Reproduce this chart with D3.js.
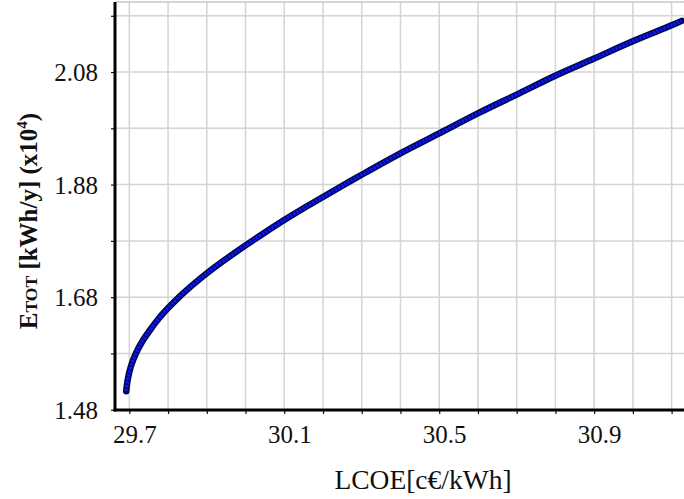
<!DOCTYPE html>
<html>
<head>
<meta charset="utf-8">
<script src="https://cdn.jsdelivr.net/npm/d3@7"></script>
<style>
  html, body { margin: 0; padding: 0; background: #fff; }
  svg { display: block; }
</style>
</head>
<body>
<svg id="chart" width="684" height="499"></svg>
<script>
// ---- data ----
const lcoe = [29.692, 29.696, 29.704, 29.717, 29.734, 29.755, 29.777, 29.802, 29.831, 29.862,
              29.901, 29.950, 30.000, 30.050, 30.102, 30.150, 30.200, 30.250, 30.301, 30.401,
              30.500, 30.601, 30.700, 30.801, 30.900, 31.001, 31.100, 31.126];
const etot = [1.513, 1.534, 1.557, 1.580, 1.602, 1.623, 1.643, 1.662, 1.682, 1.701,
              1.723, 1.748, 1.772, 1.795, 1.818, 1.838, 1.858, 1.878, 1.898, 1.936,
              1.971, 2.007, 2.040, 2.074, 2.104, 2.135, 2.163, 2.171];
const xTickLabels = [29.7, 30.1, 30.5, 30.9];
const yTickLabels = [1.48, 1.68, 1.88, 2.08];
const xGrid = [29.7, 29.8, 29.9, 30.0, 30.1, 30.2, 30.3, 30.4, 30.5, 30.6, 30.7, 30.8, 30.9, 31.0, 31.1];
const yGrid = [1.48, 1.58, 1.68, 1.78, 1.88, 1.98, 2.08, 2.18];
const xTitle = "LCOE[c€/kWh]";

const FONT = "'Liberation Serif', 'DejaVu Serif', serif";
const svg = d3.select("#chart");
const mL = 115, mR = 684, mT = 2, mB = 410;

const x = d3.scaleLinear().domain([29.663, 31.132]).range([mL, mR]);
const y = d3.scaleLinear().domain([1.4795, 2.2045]).range([mB, mT]);

// grid
const grid = svg.append("g");
grid.selectAll("line.v").data(xGrid).join("line")
  .attr("x1", d => x(d)).attr("x2", d => x(d))
  .attr("y1", mT).attr("y2", mB)
  .attr("stroke", "#d4d4d4").attr("stroke-width", 1.5);
grid.selectAll("line.h").data(yGrid).join("line")
  .attr("x1", mL).attr("x2", mR)
  .attr("y1", d => y(d)).attr("y2", d => y(d))
  .attr("stroke", "#d4d4d4").attr("stroke-width", 1.5);
grid.append("line").attr("x1", mL).attr("x2", mR).attr("y1", mT).attr("y2", mT)
  .attr("stroke", "#c8c8c8").attr("stroke-width", 1.5);

// axes
const xAxis = d3.axisBottom(x).tickValues(xGrid).tickSize(4)
  .tickFormat(d => xTickLabels.some(v => Math.abs(v - d) < 1e-6) ? d3.format(".1f")(d) : "");
const gx = svg.append("g").attr("transform", `translate(0,${mB})`).call(xAxis);
gx.select(".domain").remove();
gx.selectAll(".tick line").attr("stroke", "#111").attr("stroke-width", 1.2);
gx.selectAll(".tick text").style("font-family", FONT).style("font-size", "25px")
  .attr("dy", "1.05em").attr("dx", 5).attr("fill", "#111");

const yAxis = d3.axisLeft(y).tickValues(yGrid).tickSize(4)
  .tickFormat(d => yTickLabels.some(v => Math.abs(v - d) < 1e-6) ? d3.format(".2f")(d) : "");
const gy = svg.append("g").attr("transform", `translate(${mL},0)`).call(yAxis);
gy.select(".domain").remove();
gy.selectAll(".tick line").attr("stroke", "#111").attr("stroke-width", 1.2);
gy.selectAll(".tick text").style("font-family", FONT).style("font-size", "25px")
  .attr("dx", "-0.4em").attr("dy", "0.34em").attr("fill", "#111");

// thick axis lines
svg.append("line").attr("x1", mL).attr("x2", mL).attr("y1", mT).attr("y2", mB + 1.5)
  .attr("stroke", "#000").attr("stroke-width", 3);
svg.append("line").attr("x1", mL - 1.5).attr("x2", mR).attr("y1", mB).attr("y2", mB)
  .attr("stroke", "#000").attr("stroke-width", 3);

// curve
const pts = lcoe.map((v, i) => [v, etot[i]]);
const line = d3.line().x(d => x(d[0])).y(d => y(d[1])).curve(d3.curveCatmullRom.alpha(0.5));
svg.append("path").datum(pts).attr("d", line)
  .attr("fill", "none").attr("stroke", "#00084a").attr("stroke-width", 6.5)
  .attr("stroke-linecap", "round");
svg.append("path").datum(pts).attr("d", line)
  .attr("fill", "none").attr("stroke", "#0a14ff").attr("stroke-width", 3.6)
  .attr("stroke-dasharray", "2.6,1.1");

// titles
svg.append("text").attr("x", 423).attr("y", 489).attr("text-anchor", "middle")
  .style("font-family", FONT).style("font-size", "27.5px").attr("fill", "#111").text(xTitle);

const yt = svg.append("text").attr("transform", "translate(37,221) rotate(-90)")
  .attr("text-anchor", "middle").style("font-family", FONT).style("font-size", "25px")
  .style("font-weight", "bold").attr("fill", "#111");
yt.append("tspan").text("E");
yt.append("tspan").style("font-size", "17.5px").text("TOT");
yt.append("tspan").text(" [kWh/y] (x10");
yt.append("tspan").style("font-size", "15px").attr("dy", -10).text("4");
yt.append("tspan").attr("dy", 10).text(")");
</script>
</body>
</html>
